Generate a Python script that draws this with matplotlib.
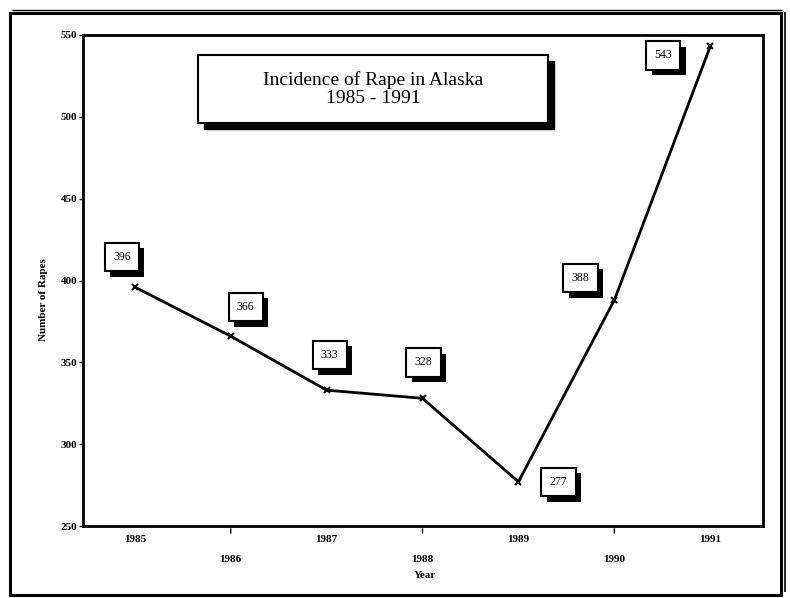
import matplotlib
matplotlib.use("Agg")
import matplotlib.pyplot as plt
import matplotlib.patheffects as pe
from matplotlib.patches import Rectangle

# data
years = [1985, 1986, 1987, 1988, 1989, 1990, 1991]
rapes = [396, 366, 333, 328, 277, 388, 543]
y_ticks = [250, 300, 350, 400, 450, 500, 550]

# where each value box sits relative to its point (pixels)
label_offsets = [(-13, 30), (15, 29), (3, 35), (1, 36), (40, 0), (-34, 22), (-47, -9)]

plt.rcParams['font.family'] = ['Liberation Serif', 'DejaVu Serif']

fig = plt.figure(figsize=(7.9, 5.98), dpi=100)
W, H = 790.0, 598.0

# outer frame of the page
fig.add_artist(Rectangle((10 / W, 1 - 595 / H), 771 / W, 582 / H, transform=fig.transFigure,
                         fill=False, lw=2.2, ec='black'))
fig.add_artist(Rectangle((785 / W, 1 - 592 / H), 0, 580 / H, transform=fig.transFigure,
                         fill=False, lw=1.2, ec='black'))
fig.add_artist(Rectangle((12 / W, 1 - 10 / H), 770 / W, 0, transform=fig.transFigure,
                         fill=False, lw=1, ec='black'))

ax = fig.add_axes([83 / W, 1 - 526 / H, 680 / W, 491 / H])
ax.plot(years, rapes, color='black', lw=2, marker='x', ms=5, mew=1.5)

ax.set_xlim(1984.46, 1991.55)
ax.set_ylim(250, 550)
ax.set_yticks(y_ticks)
ax.set_yticklabels([str(v) for v in y_ticks], fontsize=8, fontweight='bold')
ax.tick_params(axis='y', length=3, width=1, pad=1)

ax.set_xticks(years)
ax.set_xticklabels([])
ax.tick_params(axis='x', length=0)
for i, yr in enumerate(years):
    if i % 2 == 0:
        ax.annotate(str(yr), (yr, 250), xytext=(0, -14), textcoords='offset pixels',
                    ha='center', va='center', fontsize=8, fontweight='bold')
    else:
        ax.annotate('', (yr, 250), xytext=(0, -10), textcoords='offset pixels',
                    arrowprops=dict(arrowstyle='-', lw=1, color='black'))
        ax.annotate(str(yr), (yr, 250), xytext=(0, -33), textcoords='offset pixels',
                    ha='center', va='center', fontsize=8, fontweight='bold')

for sp in ax.spines.values():
    sp.set_linewidth(2)

fig.text(425 / W, 1 - 576 / H, 'Year', ha='center', va='center', fontsize=8, fontweight='bold')
fig.text(43 / W, 1 - 300 / H, 'Number of Rapes', ha='center', va='center', rotation=90,
         fontsize=8, fontweight='bold')

# value boxes with drop shadow
shadow = [pe.SimplePatchShadow(offset=(4, -4), shadow_rgbFace='black', alpha=1), pe.Normal()]
for yr, v, (dx, dy) in zip(years, rapes, label_offsets):
    t = ax.annotate(str(v), (yr, v), xytext=(dx, dy), textcoords='offset pixels',
                    ha='center', va='center', fontsize=8.5,
                    bbox=dict(boxstyle='square,pad=0.7', fc='white', ec='black', lw=1.5))
    t.get_bbox_patch().set_path_effects(shadow)

# title box with drop shadow
tx, ty = 373 / W, 1 - 89 / H
fig.add_artist(Rectangle((204 / W, 1 - 129 / H), 350 / W, 68 / H, transform=fig.transFigure,
                         fc='black', ec='black'))
fig.add_artist(Rectangle((198 / W, 1 - 123 / H), 350 / W, 68 / H, transform=fig.transFigure,
                         fc='white', ec='black', lw=1.5))
fig.text(tx, ty, 'Incidence of Rape in Alaska\n1985 - 1991', ha='center', va='center',
         fontsize=14, linespacing=1.1)

fig.savefig('out.png', dpi=100)
